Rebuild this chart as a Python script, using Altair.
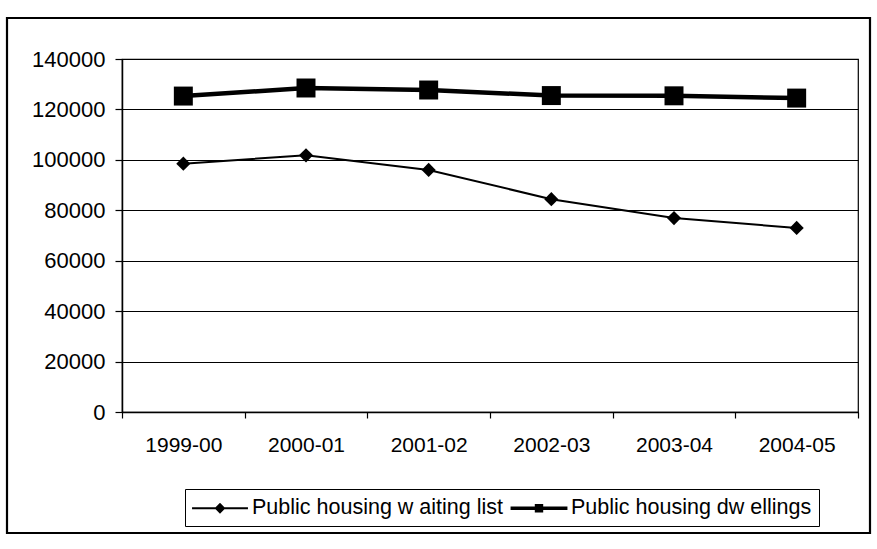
import altair as alt
import pandas as pd

# Financial years on the category axis
periods = ["1999-00", "2000-01", "2001-02", "2002-03", "2003-04", "2004-05"]
# Households on the public housing waiting list
waiting_list = [98500, 101800, 96000, 84400, 76900, 73000]
# Public housing dwellings
dwellings = [125300, 128500, 127700, 125500, 125400, 124500]
series = ["Public housing w aiting list", "Public housing dw ellings"]
y_ticks = [0, 20000, 40000, 60000, 80000, 100000, 120000, 140000]

rows = []
for name, vals in zip(series, [waiting_list, dwellings]):
    for p, v in zip(periods, vals):
        rows.append({"period": p, "value": v, "series": name})
df = pd.DataFrame(rows)

FONT = "Liberation Sans"
W, H = 877, 549
LEFT, TOP = 122, 59
PLOT_W, PLOT_H = 736, 353

x_enc = alt.X(
    "period:N",
    sort=periods,
    title=None,
    bandPosition=0.5,
    scale=alt.Scale(type="band", domain=periods, paddingInner=0, paddingOuter=0),
    axis=alt.Axis(
        tickBand="extent",
        labelAngle=0,
        labelFont=FONT,
        labelFontSize=21,
        labelColor="black",
        labelPadding=16,
        domainColor="black",
        domainWidth=1.5,
        tickColor="black",
        tickSize=6,
        tickWidth=1.2,
        grid=False,
    ),
)
y_enc = alt.Y(
    "value:Q",
    title=None,
    scale=alt.Scale(domain=[0, 140000], nice=False, zero=True),
    axis=alt.Axis(
        values=y_ticks,
        format="d",
        labelFont=FONT,
        labelFontSize=22,
        labelColor="black",
        labelPadding=10,
        domainColor="black",
        domainWidth=1.5,
        tickColor="black",
        tickSize=7,
        tickWidth=1.2,
        grid=True,
        gridColor="black",
        gridWidth=1.2,
    ),
)

# Outer chart frame
frame = alt.Chart(alt.Data(values=[{}])).mark_rect(
    filled=False, stroke="black", strokeWidth=2.2
).encode(
    x=alt.value(7 - LEFT),
    x2=alt.value(870 - LEFT),
    y=alt.value(18 - TOP),
    y2=alt.value(533 - TOP),
)

wait_df = df[df["series"] == series[0]]
dwell_df = df[df["series"] == series[1]]

wait_line = alt.Chart(wait_df).mark_line(color="black", strokeWidth=2).encode(x=x_enc, y=y_enc)
wait_pts = alt.Chart(wait_df).mark_point(
    shape="diamond", filled=True, color="black", size=200, opacity=1
).encode(x=x_enc, y=y_enc)

dwell_line = alt.Chart(dwell_df).mark_line(color="black", strokeWidth=4.5).encode(x=x_enc, y=y_enc)
dwell_pts = alt.Chart(dwell_df).mark_point(
    shape="square", filled=True, color="black", size=360, opacity=1
).encode(x=x_enc, y=y_enc)

# Legend symbols: a line segment with the series marker on it
PATH_WAIT = "M-2.33,-0.08H2.33V0.08H-2.33Z M0,-0.45L0.45,0L0,0.45L-0.45,0Z"
PATH_DWELL = "M-2.37,-0.15H2.37V0.15H-2.37Z M-0.35,-0.35H0.35V0.35H-0.35Z"

legend_layer = alt.Chart(df).mark_point(filled=True, opacity=0, color="black").encode(
    x=x_enc,
    y=y_enc,
    shape=alt.Shape(
        "series:N",
        sort=series,
        scale=alt.Scale(domain=series, range=[PATH_WAIT, PATH_DWELL]),
        legend=alt.Legend(
            title=None,
            orient="none",
            legendX=185 - LEFT,
            legendY=489 - TOP,
            direction="horizontal",
            strokeColor="black",
            padding=7,
            symbolSize=576,
            symbolOffset=16,
            symbolFillColor="black",
            symbolStrokeColor="black",
            symbolStrokeWidth=0,
            symbolOpacity=1,
            labelOffset=20,
            columnPadding=7,
            labelFont=FONT,
            labelFontSize=21.5,
            labelColor="black",
            labelLimit=500,
        ),
    ),
)

chart = (
    alt.layer(frame, wait_line, dwell_line, wait_pts, dwell_pts, legend_layer)
    .properties(
        width=PLOT_W,
        height=PLOT_H,
        autosize=alt.AutoSizeParams(type="none"),
        padding={"left": LEFT, "top": TOP, "right": W - LEFT - PLOT_W, "bottom": H - TOP - PLOT_H},
        background="white",
    )
    .configure_view(stroke="black", strokeWidth=1.2)
)

chart.save("out.html", embed_options={"renderer": "svg", "actions": False})
